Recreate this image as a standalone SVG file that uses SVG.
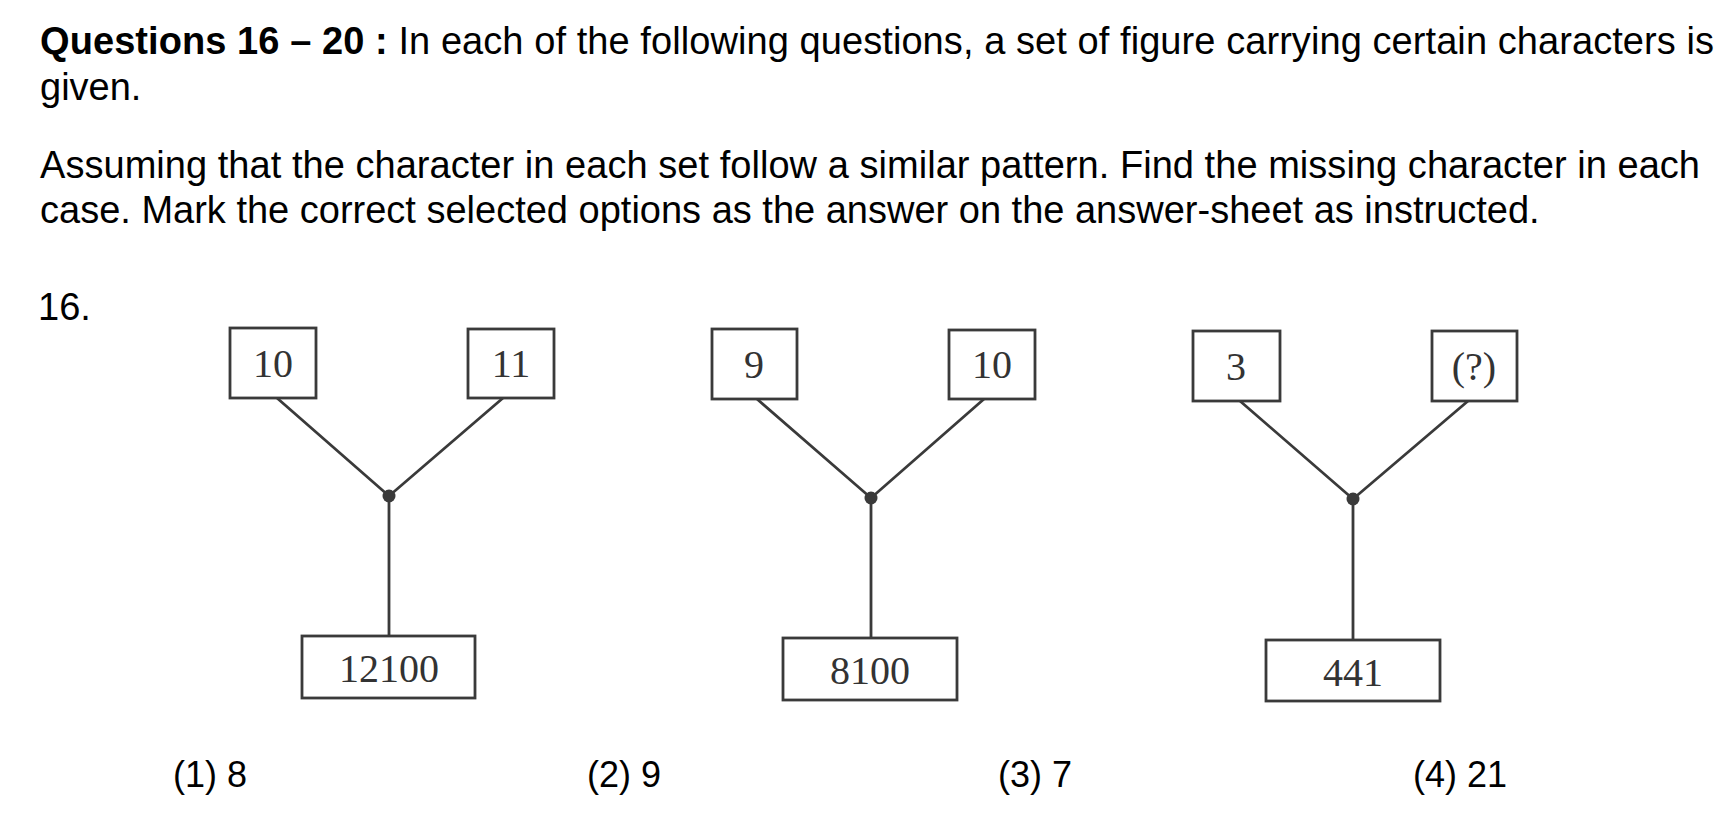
<svg xmlns="http://www.w3.org/2000/svg" width="1734" height="826" viewBox="0 0 1734 826">
<style>
.t{font-family:"Liberation Sans",Arial,sans-serif;font-size:38px;fill:#000}
.o{font-family:"Liberation Sans",Arial,sans-serif;font-size:36px;fill:#000}
.b{font-weight:bold}
.box{fill:#fff;stroke:#3a3a3a;stroke-width:2.8}
.n{font-family:"Liberation Serif","Times New Roman",serif;font-size:40px;fill:#333;text-anchor:middle}
.c{stroke:#3a3a3a;stroke-width:2.8;fill:none}
.dot{fill:#3a3a3a}
</style>
<rect width="1734" height="826" fill="#fff"/>
<g id="text">
<text class="t" x="40" y="54" textLength="1674" lengthAdjust="spacing"><tspan class="b">Questions 16 – 20 :</tspan> In each of the following questions, a set of figure carrying certain characters is</text>
<text class="t" x="40" y="100">given.</text>
<text class="t" x="40" y="178" textLength="1660" lengthAdjust="spacing">Assuming that the character in each set follow a similar pattern. Find the missing character in each</text>
<text class="t" x="40" y="223">case. Mark the correct selected options as the answer on the answer-sheet as instructed.</text>
<text class="t" x="38" y="320">16.</text>
</g>
<g id="connectors">
<path class="c" d="M277 398 L389 496 L503 398 M389 496 V636"/>
<path class="c" d="M757 399 L871 498 L984 399 M871 498 V638"/>
<path class="c" d="M1240 401 L1353 499 L1468 401 M1353 499 V640"/>
<circle class="dot" cx="389" cy="496" r="6.5"/>
<circle class="dot" cx="871" cy="498" r="6.5"/>
<circle class="dot" cx="1353" cy="499" r="6.5"/>
</g>
<g id="n1a"><rect class="box" x="230" y="328" width="86" height="70"/><text class="n" x="273" y="377">10</text></g>
<g id="n1b"><rect class="box" x="468" y="329" width="86" height="69"/><text class="n" x="511" y="377">11</text></g>
<g id="n1c"><rect class="box" x="302" y="636" width="173" height="62"/><text class="n" x="389" y="682">12100</text></g>
<g id="n2a"><rect class="box" x="712" y="329" width="85" height="70"/><text class="n" x="754" y="378">9</text></g>
<g id="n2b"><rect class="box" x="949" y="330" width="86" height="69"/><text class="n" x="992" y="378">10</text></g>
<g id="n2c"><rect class="box" x="783" y="638" width="174" height="62"/><text class="n" x="870" y="684">8100</text></g>
<g id="n3a"><rect class="box" x="1193" y="331" width="87" height="70"/><text class="n" x="1236" y="380">3</text></g>
<g id="n3b"><rect class="box" x="1432" y="331" width="85" height="70"/><text class="n" x="1474" y="380">(?)</text></g>
<g id="n3c"><rect class="box" x="1266" y="640" width="174" height="61"/><text class="n" x="1353" y="686">441</text></g>
<g id="options">
<text class="o" x="173" y="787">(1) 8</text>
<text class="o" x="587" y="787">(2) 9</text>
<text class="o" x="998" y="787">(3) 7</text>
<text class="o" x="1413" y="787">(4) 21</text>
</g>
</svg>
